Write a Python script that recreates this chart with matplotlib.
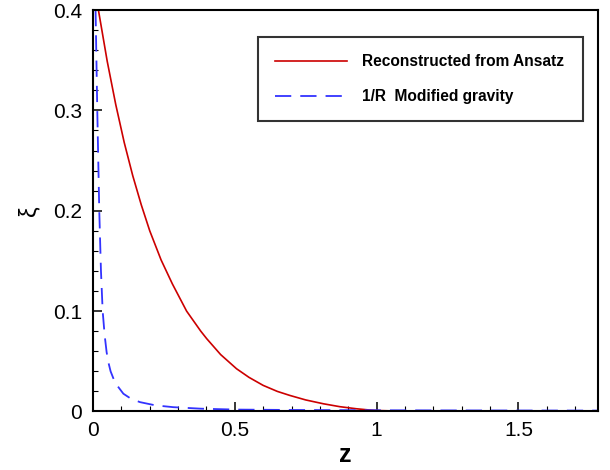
import matplotlib
matplotlib.use("Agg")
import matplotlib.pyplot as plt
from matplotlib.ticker import MultipleLocator, FormatStrFormatter

plt.rcParams['font.family'] = ['Liberation Sans', 'DejaVu Sans']

# Reconstructed from Ansatz (red solid)
red_z = [0.019, 0.05, 0.08, 0.11, 0.14, 0.17, 0.20, 0.24, 0.28, 0.33, 0.38, 0.401,
         0.45, 0.506, 0.55, 0.6, 0.65, 0.694, 0.75, 0.812, 0.87, 0.929, 0.97, 1.0,
         1.05, 1.1, 1.3, 1.5, 1.78]
red_xi = [0.40, 0.349, 0.306, 0.268, 0.235, 0.206, 0.180, 0.151, 0.127, 0.100, 0.080, 0.0725,
          0.0567, 0.0426, 0.034, 0.026, 0.020, 0.016, 0.0115, 0.0077, 0.0048, 0.0027, 0.0016, 0.001,
          0.0006, 0.0005, 0.0003, 0.0002, 0.0002]

# 1/R Modified gravity (blue dashed)
blue_z = [0.009, 0.015, 0.022, 0.028, 0.034, 0.041, 0.048, 0.055, 0.062, 0.078, 0.107,
          0.135, 0.166, 0.22, 0.283, 0.38, 0.503, 0.7, 1.0, 1.4, 1.78]
blue_xi = [0.40, 0.30, 0.20, 0.14, 0.10, 0.076, 0.059, 0.048, 0.040, 0.0285, 0.0177,
           0.0125, 0.0093, 0.0061, 0.0043, 0.0028, 0.0019, 0.0015, 0.0012, 0.001, 0.0009]

labels = ["Reconstructed from Ansatz", "1/R  Modified gravity"]

fig = plt.figure(figsize=(6.1, 4.7), dpi=100)
ax = fig.add_axes([0.1525, 0.1245, 0.8275, 0.8542])

ax.plot(red_z, red_xi, color='#cc0000', lw=1.2, label=labels[0])
ax.plot(blue_z, blue_xi, color='#3333ff', lw=1.3, linestyle=(0, (9, 5)), label=labels[1])

ax.set_xlim(0, 1.78)
ax.set_ylim(0, 0.4)
ax.xaxis.set_major_locator(MultipleLocator(0.5))
ax.xaxis.set_minor_locator(MultipleLocator(0.1))
ax.yaxis.set_major_locator(MultipleLocator(0.1))
ax.yaxis.set_minor_locator(MultipleLocator(0.02))
ax.xaxis.set_major_formatter(FormatStrFormatter('%g'))
ax.yaxis.set_major_formatter(FormatStrFormatter('%g'))
ax.tick_params(which='both', direction='in', top=False, right=False, labelsize=15)
ax.tick_params(axis='y', which='major', pad=8)
ax.tick_params(axis='x', which='major', pad=7)
ax.tick_params(which='major', length=6.2, width=1.1)
ax.tick_params(which='minor', length=3.3, width=0.8)
for s in ax.spines.values():
    s.set_linewidth(1.5)

ax.set_xlabel('z', fontsize=18, fontweight='bold', labelpad=2)
ax.set_ylabel('ξ', fontsize=17, labelpad=9)

leg = ax.legend(loc='upper left', bbox_to_anchor=(0.327, 0.721, 0.643, 0.212), mode='expand',
                frameon=True, fancybox=False, edgecolor='black', handlelength=4.6,
                handletextpad=0.96, borderpad=1.1, labelspacing=1.3,
                prop={'weight': 'bold', 'size': 11.2}, borderaxespad=0)
leg.get_frame().set_linewidth(1.5)

fig.savefig('out.png', dpi=100)
